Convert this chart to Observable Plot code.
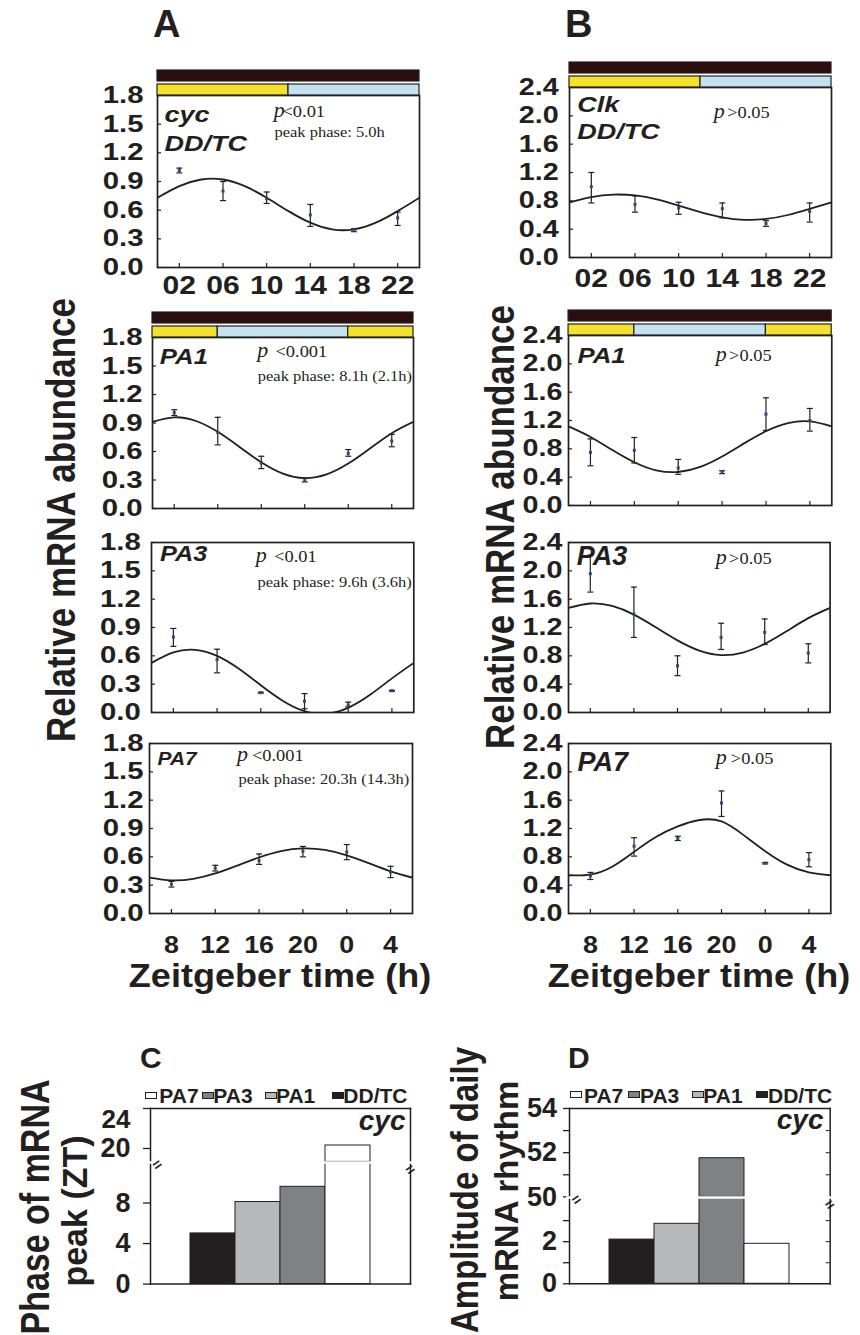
<!DOCTYPE html>
<html>
<head>
<meta charset="utf-8">
<script src="https://cdn.jsdelivr.net/npm/d3@7"></script>
<script src="https://cdn.jsdelivr.net/npm/@observablehq/plot@0.6"></script>
<style>
  body { margin: 0; background: #fff; }
  #fig { position: relative; width: 860px; height: 1335px; overflow: hidden; background: #fff;
         font-family: "Liberation Sans", Arial, Helvetica, sans-serif; color: #231f20; }
  #fig svg { position: absolute; overflow: visible; }
  .lbl { position: absolute; white-space: nowrap; font-weight: bold; line-height: 1; }
  .sw { position: absolute; box-sizing: border-box; border: 1px solid #231f20; }
</style>
</head>
<body>
<div id="fig"></div>
<script>
// ---------------- DATA ----------------
const hoursTop = [2, 6, 10, 14, 18, 22];
const hoursPA = [8, 12, 16, 20, 24, 28];
const fitHoursTop = [0, 2, 4, 6, 8, 10, 12, 14, 16, 18, 20, 22, 24];
const fitHoursPA = [6, 8, 10, 12, 14, 16, 18, 20, 22, 24, 26, 28, 30];
const ticksTop = [2, 6, 10, 14, 18, 22];
const ticksPA = [8, 12, 16, 20, 24, 28];
const yTicksA = [0, 0.3, 0.6, 0.9, 1.2, 1.5, 1.8];
const yTicksB = [0, 0.4, 0.8, 1.2, 1.6, 2.0, 2.4];

// light / temperature regime bars
const darkTop = [{start: 0, end: 24}];
const tcTop = [{start: 0, end: 12, phase: "warm"}, {start: 12, end: 24, phase: "cold"}];
const darkPA = [{start: 6, end: 30}];
const tcPA = [{start: 6, end: 12, phase: "warm"}, {start: 12, end: 24, phase: "cold"}, {start: 24, end: 30, phase: "warm"}];

// A: cyc
const cycDD_mean = [1.015, 0.80, 0.72, 0.55, 0.39, 0.52];
const cycDD_lo   = [0.99, 0.70, 0.67, 0.43, 0.375, 0.44];
const cycDD_hi   = [1.04, 0.90, 0.79, 0.66, 0.405, 0.58];
const cycDD_fit  = [0.730, 0.851, 0.921, 0.921, 0.851, 0.730, 0.590, 0.469, 0.399, 0.399, 0.469, 0.590, 0.730];

const cycPA1_mean = [1.01, 0.80, 0.48, 0.30, 0.58, 0.71];
const cycPA1_lo   = [0.98, 0.67, 0.42, 0.28, 0.55, 0.65];
const cycPA1_hi   = [1.04, 0.96, 0.55, 0.32, 0.62, 0.78];
const cycPA1_fit  = [0.913, 0.960, 0.921, 0.807, 0.648, 0.487, 0.367, 0.320, 0.359, 0.473, 0.632, 0.793, 0.913];

const cycPA3_mean = [0.80, 0.56, 0.21, 0.12, 0.08, 0.23];
const cycPA3_lo   = [0.70, 0.42, 0.205, 0.04, 0.06, 0.225];
const cycPA3_hi   = [0.89, 0.67, 0.215, 0.20, 0.11, 0.235];
const cycPA3_fit  = [0.525, 0.636, 0.663, 0.600, 0.463, 0.289, 0.125, 0.014, -0.013, 0.050, 0.187, 0.361, 0.525];

const cycPA7_mean = [0.31, 0.48, 0.56, 0.66, 0.65, 0.44];
const cycPA7_lo   = [0.28, 0.45, 0.52, 0.60, 0.57, 0.38];
const cycPA7_hi   = [0.34, 0.51, 0.63, 0.71, 0.73, 0.50];
const cycPA7_fit  = [0.380, 0.351, 0.367, 0.424, 0.507, 0.593, 0.660, 0.689, 0.673, 0.616, 0.533, 0.447, 0.380];

// B: Clk
const clkDD_mean = [1.00, 0.75, 0.70, 0.69, 0.48, 0.65];
const clkDD_lo   = [0.77, 0.64, 0.61, 0.56, 0.44, 0.50];
const clkDD_hi   = [1.20, 0.87, 0.78, 0.77, 0.52, 0.77];
const clkDD_fit  = [0.779, 0.853, 0.888, 0.876, 0.820, 0.733, 0.641, 0.567, 0.532, 0.544, 0.600, 0.687, 0.779];

const clkPA1_mean = [0.75, 0.78, 0.53, 0.47, 1.29, 1.20];
const clkPA1_lo   = [0.56, 0.60, 0.44, 0.45, 1.06, 1.05];
const clkPA1_hi   = [0.94, 0.96, 0.65, 0.49, 1.52, 1.37];
const clkPA1_fit  = [1.116, 0.968, 0.783, 0.611, 0.497, 0.473, 0.544, 0.692, 0.877, 1.049, 1.163, 1.187, 1.116];

const clkPA3_mean = [1.96, 1.39, 0.66, 1.06, 1.13, 0.84];
const clkPA3_lo   = [1.70, 1.06, 0.52, 0.89, 0.96, 0.70];
const clkPA3_hi   = [2.22, 1.77, 0.80, 1.26, 1.32, 0.97];
const clkPA3_fit  = [1.476, 1.539, 1.504, 1.382, 1.204, 1.018, 0.874, 0.811, 0.846, 0.968, 1.146, 1.332, 1.476];

const clkPA7_mean = [0.53, 0.95, 1.06, 1.56, 0.71, 0.76];
const clkPA7_lo   = [0.48, 0.81, 1.03, 1.37, 0.70, 0.66];
const clkPA7_hi   = [0.58, 1.07, 1.09, 1.73, 0.72, 0.86];
const clkPA7_fit  = [0.54, 0.55, 0.66, 0.87, 1.08, 1.23, 1.32, 1.30, 1.11, 0.88, 0.69, 0.58, 0.54];

// C / D bar charts (cyc)
const groups = ["DD/TC", "PA1", "PA3", "PA7"];
const groupFill = ["#231f20", "#b7b8ba", "#808184", "#ffffff"];
const legendOrder = ["PA7", "PA3", "PA1", "DD/TC"];
const peakPhaseZT = [5.0, 8.1, 9.6, 20.3];
const amplitudeCyc = [2.1, 2.85, 51.75, 1.9];
const phaseTicksHi = [20, 24];
const phaseTicksLo = [0, 4, 8];
const ampTicksHi = [50, 51, 52, 53, 54];
const ampTicksLo = [0, 1, 2, 3];

// ---------------- HELPERS ----------------
const INK = "#231f20";
const SANS = '"Liberation Sans", Arial, Helvetica, sans-serif';
const SERIF = '"Liberation Serif", "Times New Roman", serif';
const phaseColor = {warm: "#f4e12c", cold: "#c4e2ef"};
const DARK = "#2c0e0f";
const plotStyle = {background: "transparent", overflow: "visible", fontFamily: SANS, color: INK};
const fig = document.getElementById("fig");

function mount(svg, left, top) {
  svg.style.left = left + "px";
  svg.style.top = top + "px";
  fig.appendChild(svg);
}
function stretchSel(svg, sel, s) {
  svg.querySelectorAll(sel).forEach(t => {
    t.setAttribute("transform", (t.getAttribute("transform") || "") + ` scale(${s},1)`);
  });
}
function stretchMarked(svg) {
  svg.querySelectorAll("g[aria-description^='sx:']").forEach(g => {
    const s = +g.getAttribute("aria-description").slice(3);
    g.querySelectorAll("text").forEach(t => {
      t.setAttribute("transform", (t.getAttribute("transform") || "") + ` scale(${s},1)`);
    });
  });
}
const capSymbol = {
  draw(ctx, size) {
    const r = Math.sqrt(size / Math.PI);
    ctx.moveTo(-r, 0);
    ctx.lineTo(r, 0);
  }
};
const fmt2 = d => String(d).padStart(2, "0");
const fmt24 = d => String(d % 24);

function makeStrip(s, st) {
  const ML = 80, MR = 12;
  const rows = [
    ...st.dark.map(d => ({...d, row: "DD", fill: DARK})),
    ...st.tc.map(d => ({...d, row: "TC", fill: phaseColor[d.phase]}))
  ];
  const svg = Plot.plot({
    width: s.x1 - s.x0 + ML + MR, height: 25,
    marginLeft: ML, marginRight: MR, marginTop: 0, marginBottom: 0,
    x: {domain: s.xDomain, axis: null},
    y: {domain: ["DD", "TC"], axis: null, paddingInner: 0.24, paddingOuter: 0},
    color: {type: "identity"},
    style: plotStyle,
    marks: [Plot.barX(rows, {x1: "start", x2: "end", y: "row", fill: "fill", stroke: INK, strokeWidth: 1.2})]
  });
  mount(svg, s.x0 - ML, st.top);
}

function makePanel(s) {
  const ML = 80, MR = 12, MT = 12, MB = 50;
  const pw = s.x1 - s.x0, ph = s.y1 - s.y0;
  const pts = s.hours.map((t, i) => ({t, v: s.mean[i], lo: s.lo[i], hi: s.hi[i]}));
  const fit = s.fitHours.map((t, i) => ({t, v: s.fit[i]}));
  const marks = [
    Plot.line(fit, {x: "t", y: "v", curve: "natural", stroke: INK, strokeWidth: 1.8, clip: true}),
    Plot.ruleX(pts, {x: "t", y1: "lo", y2: "hi", stroke: INK, strokeWidth: 1.2}),
    Plot.dot(pts, {x: "t", y: "lo", symbol: capSymbol, r: 3, fill: "none", stroke: INK, strokeWidth: 1.2}),
    Plot.dot(pts, {x: "t", y: "hi", symbol: capSymbol, r: 3, fill: "none", stroke: INK, strokeWidth: 1.2}),
    Plot.dot(pts, {x: "t", y: "v", symbol: "square", r: 1.7, fill: "#1d4f86", stroke: "none"}),
    Plot.tickY(s.yTicks, {y: d => d, insetRight: pw - 4, stroke: INK, strokeWidth: 1.2}),
    Plot.tickX(s.xTicks, {x: d => d, insetTop: ph - 4, stroke: INK, strokeWidth: 1.2}),
    Plot.frame({stroke: INK, strokeWidth: 1.7}),
    Plot.axisY(s.yTicks, {tickSize: 0, tickPadding: s.yPad, fontSize: s.ySize, fontWeight: "bold",
      color: INK, label: null, tickFormat: d => d.toFixed(1)})
  ];
  if (s.xLabels) {
    marks.push(Plot.axisX(s.xTicks, {tickSize: 0, tickPadding: s.xPad, fontSize: s.xSize, fontWeight: "bold",
      color: INK, label: null, tickFormat: s.xFmt}));
  }
  s.gene.forEach((g, i) => marks.push(Plot.text([g], {
    frameAnchor: "top-left", textAnchor: "start", lineAnchor: "top",
    dx: s.geneDx, dy: s.geneBase[i] - 0.71 * s.geneSize, fontSize: s.geneSize,
    fontWeight: "bold", fontStyle: "italic", fill: INK, ariaDescription: "sx:" + s.geneStretch
  })));
  marks.push(Plot.text(["p"], {
    frameAnchor: "top-left", textAnchor: "start", lineAnchor: "top",
    dx: s.pDx, dy: s.pBase - 0.71 * 20, fontSize: 20, fontStyle: "italic", fontFamily: SERIF,
    fill: INK, ariaDescription: "sx:1.1"
  }));
  marks.push(Plot.text([s.pVal], {
    frameAnchor: "top-left", textAnchor: "start", lineAnchor: "top",
    dx: s.vDx, dy: s.pBase - 0.71 * 16, fontSize: 16, fontFamily: SERIF,
    fill: INK, ariaDescription: "sx:1.15"
  }));
  if (s.peak) {
    marks.push(Plot.text([s.peak], {
      frameAnchor: "top-left", textAnchor: "start", lineAnchor: "top",
      dx: s.peakDx, dy: s.peakBase - 0.71 * 15, fontSize: 15, fontFamily: SERIF,
      fill: INK, ariaDescription: "sx:1.1"
    }));
  }
  const svg = Plot.plot({
    width: pw + ML + MR, height: ph + MT + MB,
    marginLeft: ML, marginRight: MR, marginTop: MT, marginBottom: MB,
    x: {domain: s.xDomain, axis: null, label: null},
    y: {domain: s.yDomain, axis: null, label: null},
    style: plotStyle,
    marks
  });
  stretchSel(svg, 'g[aria-label="y-axis tick label"] text', 1.25);
  stretchSel(svg, 'g[aria-label="x-axis tick label"] text', s.xStretch || 1);
  stretchMarked(svg);
  mount(svg, s.x0 - ML, s.y0 - MT);
  if (s.strip) makeStrip(s, s.strip);
}

function brokenBars(o) {
  const ML = 70, MR = 20, MT = 12, MB = 12;
  const pw = o.x1 - o.x0;
  const bars = groups.map((g, i) => ({g, v: o.values[i], fill: groupFill[i]}));
  const xScale = {domain: groups, axis: null, label: null, paddingInner: 0, paddingOuter: 0.86};
  const hiLo = o.hiDomain[0], loHi = o.loDomain[1];
  const axisOpts = {fontSize: o.labelSize, fontWeight: "bold", color: INK, strokeWidth: 1.3, label: null};
  const upperMarks = [
    Plot.barY(bars.filter(d => d.v > hiLo), {x: "g", y1: hiLo, y2: "v", fill: "fill", stroke: INK, strokeWidth: 1}),
    Plot.frame({anchor: "top", stroke: INK, strokeWidth: 1.5}),
    Plot.frame({anchor: "left", stroke: INK, strokeWidth: 1.5}),
    Plot.frame({anchor: "right", stroke: INK, strokeWidth: 1.5}),
    Plot.axisY(o.hiTicks, {...axisOpts, tickSize: o.tickSize, tickPadding: o.tickPad, tickFormat: o.hiFmt}),
    ...(o.extraHi || []),
    Plot.tickY(o.rightHi, {y: d => d, insetLeft: pw - 4, stroke: INK, strokeWidth: 1}),
    Plot.text(["cyc"], {frameAnchor: "top-right", textAnchor: "end", lineAnchor: "top",
      dx: o.cycDx, dy: o.cycBase - 0.71 * 28, fontSize: 28, fontWeight: "bold", fontStyle: "italic", fill: INK})
  ];
  const upper = Plot.plot({
    width: pw + ML + MR, height: o.yBreak - o.yTop + MT,
    marginLeft: ML, marginRight: MR, marginTop: MT, marginBottom: 0,
    x: xScale, y: {domain: o.hiDomain, axis: null, label: null}, color: {type: "identity"},
    style: plotStyle, marks: upperMarks
  });
  mount(upper, o.x0 - ML, o.yTop - MT);

  const lowerMarks = [
    Plot.barY(bars, {x: "g", y1: 0, y2: d => Math.min(d.v, loHi), fill: "fill", stroke: INK, strokeWidth: 1}),
    Plot.frame({anchor: "left", stroke: INK, strokeWidth: 1.5}),
    Plot.frame({anchor: "right", stroke: INK, strokeWidth: 1.5}),
    Plot.frame({anchor: "bottom", stroke: INK, strokeWidth: 1.5}),
    Plot.ruleY([loHi], {stroke: "#fff", strokeWidth: 2.5, insetLeft: -3, insetRight: -3}),
    Plot.axisY(o.loTicks, {...axisOpts, tickSize: o.tickSize, tickPadding: o.tickPad, tickFormat: o.loFmt}),
    Plot.tickY(o.rightLo, {y: d => d, insetLeft: pw - 4, stroke: INK, strokeWidth: 1}),
    Plot.text(["="], {frameAnchor: "top-left", rotate: -35, fontSize: 15, fontWeight: "bold", fill: INK}),
    Plot.text(["="], {frameAnchor: "top-right", rotate: -35, fontSize: 15, fontWeight: "bold", fill: INK})
  ];
  const lower = Plot.plot({
    width: pw + ML + MR, height: o.yBottom - o.yBreak + MB,
    marginLeft: ML, marginRight: MR, marginTop: 0, marginBottom: MB,
    x: xScale, y: {domain: o.loDomain, axis: null, label: null}, color: {type: "identity"},
    style: plotStyle, marks: lowerMarks
  });
  mount(lower, o.x0 - ML, o.yBreak);

  // legend (above the chart)
  legendOrder.forEach((name, k) => {
    const i = groups.indexOf(name);
    const sw = document.createElement("div");
    sw.className = "sw";
    sw.style.left = o.legendSwX[k] + "px";
    sw.style.top = o.legendSwY + "px";
    sw.style.width = "12px";
    sw.style.height = "7px";
    sw.style.background = groupFill[i];
    fig.appendChild(sw);
    label(name, {left: o.legendTxX[k], top: o.legendTop, size: 21});
  });
}

function label(text, {left, top, size, italic = false, sx = 1, center = false}) {
  const d = document.createElement("div");
  d.className = "lbl";
  d.textContent = text;
  d.style.left = left + "px";
  d.style.top = top + "px";
  d.style.fontSize = size + "px";
  if (italic) d.style.fontStyle = "italic";
  d.style.transformOrigin = center ? "50% 50%" : "0 50%";
  d.style.transform = (center ? "translateX(-50%) " : "") + `scaleX(${sx})`;
  fig.appendChild(d);
}
function vlabel(text, {cx, cy, size, sy = 1}) {
  const d = document.createElement("div");
  d.className = "lbl";
  d.textContent = text;
  d.style.left = cx + "px";
  d.style.top = cy + "px";
  d.style.fontSize = size + "px";
  d.style.transform = `translate(-50%,-50%) rotate(-90deg) scaleY(${sy})`;
  fig.appendChild(d);
}

// ---------------- PANELS ----------------
const panels = [
  {x0: 157, y0: 95, x1: 419, y1: 267, xDomain: [0, 24], yDomain: [0, 1.8], yTicks: yTicksA, ySize: 23.5, yPad: 14,
   xTicks: ticksTop, xLabels: true, xFmt: fmt2, xPad: 8, xSize: 25.5, xStretch: 1.18,
   hours: hoursTop, mean: cycDD_mean, lo: cycDD_lo, hi: cycDD_hi, fitHours: fitHoursTop, fit: cycDD_fit,
   gene: ["cyc", "DD/TC"], geneSize: 22.5, geneStretch: 1.2, geneDx: 7, geneBase: [26.7, 55.7],
   pVal: "<0.01", pDx: 116.3, vDx: 125, pBase: 21.7, peak: "peak phase: 5.0h", peakDx: 117, peakBase: 41,
   strip: {top: 70, dark: darkTop, tc: tcTop}},
  {x0: 152, y0: 337, x1: 413, y1: 508, xDomain: [6, 30], yDomain: [0, 1.8], yTicks: yTicksA, ySize: 23.5, yPad: 10,
   xTicks: ticksPA, xLabels: false,
   hours: hoursPA, mean: cycPA1_mean, lo: cycPA1_lo, hi: cycPA1_hi, fitHours: fitHoursPA, fit: cycPA1_fit,
   gene: ["PA1"], geneSize: 23, geneStretch: 1.12, geneDx: 7.3, geneBase: [26.3],
   pVal: "<0.001", pDx: 104.7, vDx: 123, pBase: 19.7, peak: "peak phase: 8.1h (2.1h)", peakDx: 105.3, peakBase: 43,
   strip: {top: 312, dark: darkPA, tc: tcPA}},
  {x0: 150.7, y0: 542, x1: 413, y1: 712, xDomain: [6, 30], yDomain: [0, 1.8], yTicks: yTicksA, ySize: 23.5, yPad: 10.7,
   xTicks: ticksPA, xLabels: false,
   hours: hoursPA, mean: cycPA3_mean, lo: cycPA3_lo, hi: cycPA3_hi, fitHours: fitHoursPA, fit: cycPA3_fit,
   gene: ["PA3"], geneSize: 22, geneStretch: 1.15, geneDx: 8.6, geneBase: [18.7],
   pVal: "<0.01", pDx: 104.3, vDx: 122.6, pBase: 19.7, peak: "peak phase: 9.6h (3.6h)", peakDx: 106, peakBase: 44},
  {x0: 149.3, y0: 743, x1: 412.3, y1: 913, xDomain: [6, 30], yDomain: [0, 1.8], yTicks: yTicksA, ySize: 23.5, yPad: 6,
   xTicks: ticksPA, xLabels: true, xFmt: fmt24, xPad: 22, xSize: 24, xStretch: 1.12,
   hours: hoursPA, mean: cycPA7_mean, lo: cycPA7_lo, hi: cycPA7_hi, fitHours: fitHoursPA, fit: cycPA7_fit,
   gene: ["PA7"], geneSize: 19, geneStretch: 1.1, geneDx: 8, geneBase: [21.3],
   pVal: "<0.001", pDx: 87.4, vDx: 102.4, pBase: 17, peak: "peak phase: 20.3h (14.3h)", peakDx: 89, peakBase: 40.3},
  {x0: 569, y0: 87, x1: 831, y1: 257, xDomain: [0, 24], yDomain: [0, 2.4], yTicks: yTicksB, ySize: 23, yPad: 10.7,
   xTicks: ticksTop, xLabels: true, xFmt: fmt2, xPad: 11, xSize: 25.5, xStretch: 1.18,
   hours: hoursTop, mean: clkDD_mean, lo: clkDD_lo, hi: clkDD_hi, fitHours: fitHoursTop, fit: clkDD_fit,
   gene: ["Clk", "DD/TC"], geneSize: 22.5, geneStretch: 1.2, geneDx: 7.7, geneBase: [24.7, 51.3],
   pVal: ">0.05", pDx: 144.3, vDx: 157.7, pBase: 30.3,
   strip: {top: 62, dark: darkTop, tc: tcTop}},
  {x0: 567.7, y0: 335, x1: 831, y1: 505, xDomain: [6, 30], yDomain: [0, 2.4], yTicks: yTicksB, ySize: 23, yPad: 6,
   xTicks: ticksPA, xLabels: false,
   hours: hoursPA, mean: clkPA1_mean, lo: clkPA1_lo, hi: clkPA1_hi, fitHours: fitHoursPA, fit: clkPA1_fit,
   gene: ["PA1"], geneSize: 23, geneStretch: 1.12, geneDx: 9, geneBase: [27.7],
   pVal: ">0.05", pDx: 147.3, vDx: 160.6, pBase: 25,
   strip: {top: 310, dark: darkPA, tc: tcPA}},
  {x0: 567.7, y0: 542, x1: 829.3, y1: 712, xDomain: [6, 30], yDomain: [0, 2.4], yTicks: yTicksB, ySize: 23, yPad: 6,
   xTicks: ticksPA, xLabels: false,
   hours: hoursPA, mean: clkPA3_mean, lo: clkPA3_lo, hi: clkPA3_hi, fitHours: fitHoursPA, fit: clkPA3_fit,
   gene: ["PA3"], geneSize: 27, geneStretch: 1.0, geneDx: 8.3, geneBase: [22],
   pVal: ">0.05", pDx: 147.3, vDx: 160.6, pBase: 21.3},
  {x0: 567.7, y0: 743, x1: 830, y1: 913, xDomain: [6, 30], yDomain: [0, 2.4], yTicks: yTicksB, ySize: 23, yPad: 6,
   xTicks: ticksPA, xLabels: true, xFmt: fmt24, xPad: 22, xSize: 24, xStretch: 1.12,
   hours: hoursPA, mean: clkPA7_mean, lo: clkPA7_lo, hi: clkPA7_hi, fitHours: fitHoursPA, fit: clkPA7_fit,
   gene: ["PA7"], geneSize: 27, geneStretch: 1.0, geneDx: 9, geneBase: [27.7],
   pVal: ">0.05", pDx: 147.3, vDx: 162.3, pBase: 20.3}
];
panels.forEach(makePanel);

// C: phase of mRNA peak
brokenBars({
  x0: 150, x1: 410, yTop: 1108.3, yBreak: 1161.7, yBottom: 1283.3,
  hiDomain: [18.66, 24], loDomain: [0, 12], values: peakPhaseZT,
  hiTicks: phaseTicksHi, loTicks: phaseTicksLo,
  hiFmt: d => (d === 24 ? "" : String(d)), loFmt: d => String(d),
  extraHi: [Plot.axisY([24], {tickSize: 0, tickPadding: 20, dy: 11, fontSize: 26, fontWeight: "bold", color: INK, label: null})],
  tickSize: 7, tickPad: 13, labelSize: 27, rightHi: [], rightLo: [],
  cycDx: -5, cycBase: 21,
  legendSwX: [145, 201.7, 265, 331.7], legendTxX: [159.3, 213.3, 276, 343.3], legendSwY: 1091.5, legendTop: 1085.3
});
// D: amplitude of daily mRNA rhythm
brokenBars({
  x0: 569.3, x1: 830, yTop: 1108.3, yBreak: 1196.7, yBottom: 1283,
  hiDomain: [50, 54], loDomain: [0, 4.1], values: amplitudeCyc,
  hiTicks: ampTicksHi, loTicks: ampTicksLo,
  hiFmt: d => (d % 2 === 0 ? String(d) : ""), loFmt: d => (d % 2 === 0 ? String(d) : ""),
  tickSize: 6, tickPad: 6.6, labelSize: 27, rightHi: [51, 52, 53], rightLo: [1, 2, 3],
  cycDx: -6.7, cycBase: 20,
  legendSwX: [570, 628.3, 691.7, 756], legendTxX: [584, 640, 703.3, 768], legendSwY: 1090.5, legendTop: 1084.6
});

// ---------------- TEXT LABELS ----------------
label("A", {left: 153, top: 5, size: 38});
label("B", {left: 565, top: 5, size: 38});
label("Zeitgeber time (h)", {left: 280, top: 958, size: 34, sx: 1.06, center: true});
label("Zeitgeber time (h)", {left: 699, top: 958, size: 34, sx: 1.06, center: true});
vlabel("Relative mRNA abundance", {cx: 61, cy: 520, size: 35, sy: 1.15});
vlabel("Relative mRNA abundance", {cx: 500, cy: 527, size: 35, sy: 1.15});
label("C", {left: 140, top: 1043, size: 30});
label("D", {left: 568, top: 1043, size: 30});
vlabel("Phase of mRNA", {cx: 35, cy: 1207, size: 34, sy: 1.2});
vlabel("peak (ZT)", {cx: 74, cy: 1211, size: 34, sy: 1.05});
vlabel("Amplitude of daily", {cx: 465, cy: 1190, size: 33, sy: 1.15});
vlabel("mRNA rhythm", {cx: 506, cy: 1191, size: 33, sy: 1.0});
</script>
</body>
</html>
